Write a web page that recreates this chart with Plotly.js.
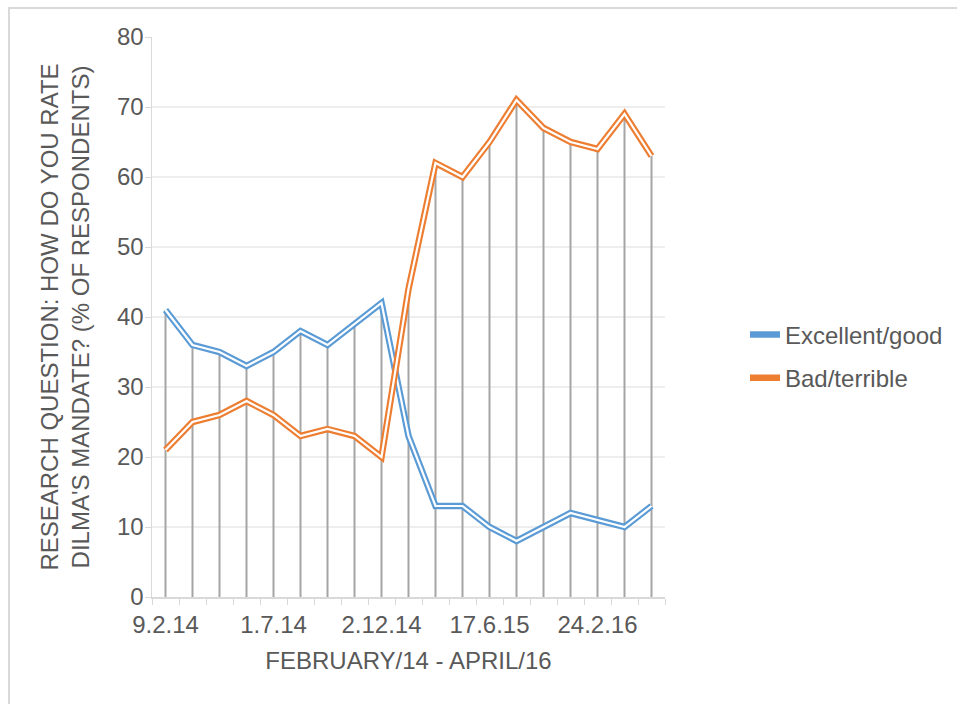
<!DOCTYPE html>
<html>
<head>
<meta charset="utf-8">
<script src="https://cdn.plot.ly/plotly-3.0.1.min.js"></script>
<style>
  html, body { margin: 0; padding: 0; background: #ffffff; }
  #frame { position: absolute; left: 8px; top: 7px; width: 960px; height: 710px;
           border-left: 2px solid #d9d9d9; border-top: 2px solid #d9d9d9; box-sizing: border-box; pointer-events: none; z-index: 5; }
  #chart { position: absolute; left: 0; top: 0; width: 957px; height: 704px; }
</style>
</head>
<body>
<div id="chart"></div>
<div id="frame"></div>
<script>
// Survey points (19 rounds, Feb 2014 - Apr 2016)
const excellentGood = [41, 36, 35, 33, 35, 38, 36, 39, 42, 23, 13, 13, 10, 8, 10, 12, 11, 10, 13];
const badTerrible   = [21, 25, 26, 28, 26, 23, 24, 23, 20, 44, 62, 60, 65, 71, 67, 65, 64, 69, 63];
const tickIndex  = [0, 4, 8, 12, 16];
const tickLabels = ['9.2.14', '1.7.14', '2.12.14', '17.6.15', '24.2.16'];
const seriesNames = ['Excellent/good', 'Bad/terrible'];

const idx = excellentGood.map((_, i) => i);
const BLUE = '#5B9BD5', ORANGE = '#ED7D31', GREY = '#A5A5A5';
const FONT = 'Liberation Sans, Arial, sans-serif';
const TXT = '#595959';
const FS = 24;

// drop lines from axis to the higher of the two series
const dropX = [], dropY = [];
idx.forEach(i => { dropX.push(i, i, null); dropY.push(0, Math.max(excellentGood[i], badTerrible[i]), null); });

const traces = [
  { x: dropX, y: dropY, mode: 'lines', line: { color: GREY, width: 2 }, showlegend: false, hoverinfo: 'skip' },
  { x: idx, y: excellentGood, name: seriesNames[0], legendgroup: 'g1', mode: 'lines', line: { color: BLUE, width: 6.5 } },
  { x: idx, y: excellentGood, mode: 'lines', line: { color: '#ffffff', width: 2.2 }, showlegend: false, hoverinfo: 'skip' },
  { x: idx, y: badTerrible, name: seriesNames[1], legendgroup: 'g2', mode: 'lines', line: { color: ORANGE, width: 6.5 } },
  { x: idx, y: badTerrible, mode: 'lines', line: { color: '#ffffff', width: 2.2 }, showlegend: false, hoverinfo: 'skip' }
];

const minorTicks = [];
for (let k = 0; k <= idx.length; k++) minorTicks.push(k - 0.5);

const layout = {
  width: 957, height: 704,
  margin: { l: 152, r: 292, t: 37, b: 107 },
  paper_bgcolor: '#ffffff', plot_bgcolor: '#ffffff',
  font: { family: FONT, size: FS, color: TXT },
  showlegend: true,
  legend: { x: 745 / 957, y: 1 - 356.5 / 704, xref: 'container', yref: 'container', xanchor: 'left', yanchor: 'middle',
            font: { family: FONT, size: FS, color: TXT }, tracegroupgap: 9, itemwidth: 30, bgcolor: 'rgba(0,0,0,0)' },
  xaxis: {
    range: [-0.5, idx.length - 0.5],
    tickmode: 'array', tickvals: tickIndex, ticktext: tickLabels,
    ticks: 'outside', ticklen: 6, tickcolor: 'rgba(0,0,0,0)',
    minor: { tickmode: 'array', tickvals: minorTicks, ticks: 'outside', ticklen: 6, tickcolor: '#d9d9d9', tickwidth: 1, showgrid: false },
    showgrid: false, zeroline: false,
    showline: true, linecolor: '#d9d9d9', linewidth: 1.5,
    tickfont: { family: FONT, size: FS, color: TXT },
    title: { text: 'FEBRUARY/14 - APRIL/16', font: { family: FONT, size: FS, color: TXT }, standoff: 15 }
  },
  yaxis: {
    range: [0, 80], dtick: 10,
    ticks: 'outside', ticklen: 6, tickcolor: '#d9d9d9', ticklabelstandoff: -4,
    showgrid: true, gridcolor: '#eeeeee', gridwidth: 1.5, zeroline: false,
    showline: true, linecolor: '#d9d9d9', linewidth: 1.5,
    tickfont: { family: FONT, size: FS, color: TXT },
    title: { text: 'RESEARCH QUESTION: HOW DO YOU RATE<br>DILMA\'S MANDATE? (% OF RESPONDENTS)', font: { family: FONT, size: FS, color: TXT }, standoff: 20 }
  }
};

Plotly.newPlot('chart', traces, layout, { displayModeBar: false, staticPlot: true });
</script>
</body>
</html>
